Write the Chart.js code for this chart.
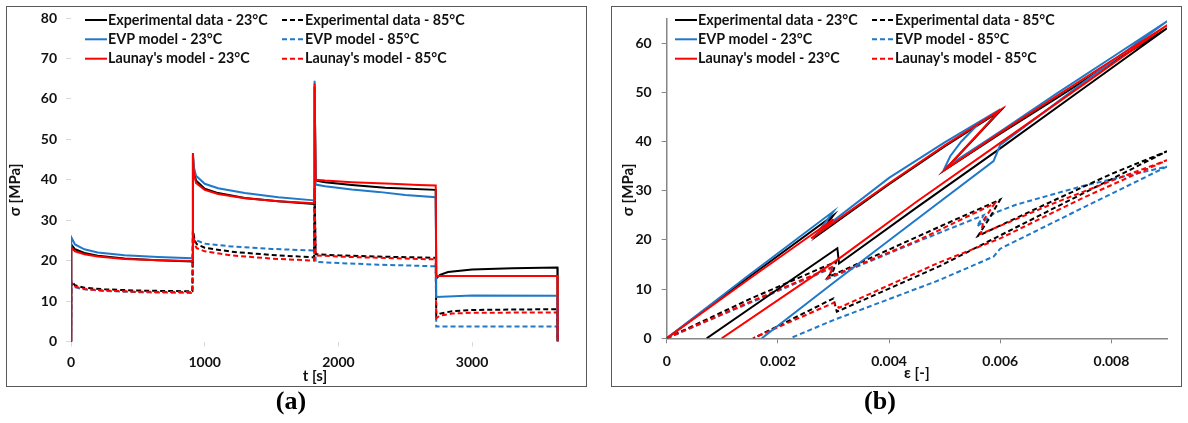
<!DOCTYPE html>
<html>
<head>
<meta charset="utf-8">
<script src="https://cdn.jsdelivr.net/npm/chart.js@4.4.1/dist/chart.umd.min.js"></script>
<style>
  html, body { margin: 0; padding: 0; background: #fff; }
  body { width: 1188px; height: 423px; position: relative; overflow: hidden; }
  .frame { position: absolute; border: 1.5px solid #595959; box-sizing: border-box; }
  .panel { position: absolute; top: 0; }
  .caption { position: absolute; top: 386px; font: bold 26px "Liberation Serif", serif; transform: translateX(-50%); }
</style>
</head>
<body>
<div class="frame" style="left:6px;top:6px;width:581px;height:381px"></div>
<div class="frame" style="left:611px;top:6px;width:571px;height:381px"></div>
<div class="panel" style="left:0"><canvas id="chartA" width="600" height="400"></canvas></div>
<div class="panel" style="left:600px"><canvas id="chartB" width="588" height="400"></canvas></div>
<div class="caption" style="left:291px">(a)</div>
<div class="caption" style="left:880px">(b)</div>
<script>
  // legend labels, same order in both panels
  const labels = [
    'Experimental data - 23°C', 'Experimental data - 85°C',
    'EVP model - 23°C', 'EVP model - 85°C',
    "Launay's model - 23°C", "Launay's model - 85°C"
  ];
  const timeTicks = [0, 1000, 2000, 3000];

  // (a) stress relaxation, [t (s), sigma (MPa)]
  const relaxExp23 = [
    [0, 0], [2, 24.0], [30, 22.8], [100, 21.9], [200, 21.2], [400, 20.5], [650, 20.1], [908, 19.8],
    [912, 46.0], [918, 42.5], [935, 39.8], [1000, 37.8], [1100, 36.7], [1300, 35.5], [1550, 34.7], [1818, 34.0],
    [1822, 63.0], [1830, 39.8], [1900, 39.4], [2100, 38.7], [2350, 38.0], [2728, 37.5],
    [2732, 15.6], [2760, 16.5], [2820, 17.2], [3000, 17.8], [3300, 18.1], [3638, 18.3], [3640, 0]
  ];
  const relaxEvp23 = [
    [0, 0], [2, 25.8], [30, 24.0], [100, 22.8], [200, 22.0], [400, 21.3], [650, 20.9], [908, 20.6],
    [912, 46.5], [918, 43.2], [935, 41.0], [1000, 39.0], [1100, 37.9], [1300, 36.7], [1550, 35.7], [1818, 34.9],
    [1822, 64.5], [1830, 38.8], [1900, 38.4], [2100, 37.6], [2300, 37.0], [2500, 36.2], [2728, 35.7],
    [2732, 11.0], [3000, 11.4], [3638, 11.3], [3640, 0]
  ];
  const relaxLaunay23 = [
    [0, 0], [2, 23.2], [30, 22.3], [100, 21.6], [200, 21.0], [400, 20.4], [650, 20.1], [908, 19.9],
    [912, 46.6], [918, 41.8], [935, 39.2], [1000, 37.5], [1100, 36.5], [1300, 35.4], [1550, 34.7], [1818, 34.2],
    [1822, 63.8], [1830, 40.0], [1900, 39.8], [2100, 39.4], [2400, 39.0], [2600, 38.7], [2728, 38.6],
    [2732, 16.2], [3638, 16.2], [3640, 0]
  ];
  const relaxExp85 = [
    [0, 0], [2, 15.0], [30, 13.9], [100, 13.3], [250, 12.9], [500, 12.6], [908, 12.4],
    [912, 27.5], [925, 25.0], [940, 24.1], [1000, 23.2], [1200, 22.2], [1500, 21.4], [1818, 20.8],
    [1822, 38.0], [1830, 21.6], [2000, 21.3], [2300, 21.0], [2728, 20.7],
    [2732, 6.4], [2760, 6.9], [2850, 7.5], [3000, 7.8], [3300, 7.9], [3638, 8.0], [3640, 0]
  ];
  const relaxEvp85 = [
    [0, 0], [2, 14.4], [30, 13.4], [100, 12.9], [250, 12.5], [500, 12.2], [908, 12.0],
    [912, 26.5], [925, 25.4], [940, 25.0], [1000, 24.2], [1200, 23.5], [1500, 22.9], [1818, 22.5],
    [1822, 34.9], [1830, 19.7], [2000, 19.4], [2300, 19.0], [2728, 18.6],
    [2732, 3.7], [3638, 3.7], [3640, 0]
  ];
  const relaxLaunay85 = [
    [0, 0], [2, 14.6], [30, 13.6], [100, 13.0], [250, 12.6], [500, 12.3], [908, 12.2],
    [912, 27.0], [925, 24.0], [940, 23.1], [1000, 22.3], [1200, 21.3], [1500, 20.5], [1818, 20.0],
    [1822, 36.2], [1830, 21.3], [2000, 21.0], [2300, 20.7], [2728, 20.3],
    [2732, 5.8], [2760, 6.4], [2850, 6.9], [3000, 7.1], [3638, 7.2], [3640, 0]
  ];

  // (b) stress-strain loops, [eps (-), sigma (MPa)]
  const cycleExp23 = [
    [0, 0], [0.0015, 12.6], [0.0030, 25.0], [0.00285, 22.8], [0.0027, 20.8],
    [0.0040, 31.3], [0.0050, 39.0], [0.0060, 46.2],
    [0.0055, 40.2], [0.0050, 34.2],
    [0.0060, 41.6], [0.0070, 48.7], [0.0080, 55.9], [0.0090, 63.0],
    [0.0075, 50.8], [0.0060, 38.6], [0.0045, 26.6], [0.0031, 15.2], [0.00307, 18.3], [0.0019, 9.2], [0.00072, 0]
  ];
  const cycleEvp23 = [
    [0, 0], [0.0015, 13.0], [0.0030, 25.8], [0.00285, 23.5], [0.0027, 21.3],
    [0.0040, 32.6], [0.0050, 39.8], [0.0060, 46.5],
    [0.0056, 43.5], [0.0053, 40.0], [0.0051, 37.0], [0.0050, 34.6],
    [0.0060, 42.0], [0.0070, 49.6], [0.0080, 57.0], [0.0090, 64.4],
    [0.0075, 52.0], [0.0060, 39.3], [0.00588, 36.0], [0.0045, 24.2], [0.0030, 11.3], [0.00171, 0]
  ];
  const cycleLaunay23 = [
    [0, 0], [0.0015, 12.2], [0.0030, 24.2], [0.0028, 22.0], [0.0026, 20.3],
    [0.0040, 31.5], [0.0050, 39.2], [0.0060, 46.4],
    [0.0055, 40.3], [0.0050, 34.2],
    [0.0060, 41.8], [0.0070, 49.1], [0.0080, 56.4], [0.0090, 63.6],
    [0.0075, 51.6], [0.0060, 39.7], [0.0045, 27.8], [0.0031, 16.2], [0.00099, 0]
  ];
  const cycleExp85 = [
    [0, 0], [0.0015, 8.0], [0.00305, 15.6], [0.0030, 13.8], [0.0029, 12.4],
    [0.0045, 20.6], [0.0060, 28.2], [0.0058, 24.3], [0.0056, 20.8],
    [0.0070, 28.2], [0.0080, 33.4], [0.0090, 38.0],
    [0.0075, 29.5], [0.0060, 20.9], [0.0049, 14.6], [0.00306, 5.4], [0.0030, 8.1], [0.00156, 0]
  ];
  const cycleEvp85 = [
    [0, 0], [0.0015, 7.2], [0.0030, 14.4], [0.0029, 12.1],
    [0.0045, 19.6], [0.0057, 25.0], [0.00558, 22.7],
    [0.0059, 25.5], [0.0063, 27.2], [0.0075, 31.0], [0.0090, 34.9],
    [0.0075, 26.6], [0.0060, 18.2], [0.00588, 16.6], [0.0049, 11.8], [0.0030, 3.7], [0.00222, 0]
  ];
  const cycleLaunay85 = [
    [0, 0], [0.0015, 7.4], [0.0030, 14.6], [0.0029, 12.3],
    [0.0045, 19.8], [0.0059, 27.4], [0.0057, 24.0], [0.00565, 21.2],
    [0.0070, 27.6], [0.0080, 32.0], [0.0090, 36.2],
    [0.0075, 28.6], [0.0060, 20.3], [0.0049, 15.4], [0.0031, 6.2], [0.0030, 7.2], [0.00155, 0]
  ];

  const BLACK = '#000000';
  const BLUE = '#1f78c8';
  const RED = '#ff0000';
  const TEXT = '#111111';
  const fontFamily = 'Lato, "Open Sans", sans-serif';

  // lower order is drawn on top
  function series(label, points, color, dashed, order) {
    return {
      label: label,
      data: points.map(p => ({ x: p[0], y: p[1] })),
      borderColor: color,
      backgroundColor: color,
      borderWidth: 2,
      borderDash: dashed ? [5, 3] : [],
      pointRadius: 0,
      showLine: true,
      tension: 0,
      order: order
    };
  }

  function datasets(exp23, exp85, evp23, evp85, lau23, lau85) {
    return [
      series(labels[0], exp23, BLACK, false, 2),
      series(labels[1], exp85, BLACK, true, 4),
      series(labels[2], evp23, BLUE, false, 1),
      series(labels[3], evp85, BLUE, true, 5),
      series(labels[4], lau23, RED, false, 0),
      series(labels[5], lau85, RED, true, 3)
    ];
  }

  // two column legend and the vertical axis title, placed like the spreadsheet ones
  const legendPlugin = {
    id: 'twoColLegend',
    afterDraw(chart, args, opts) {
      const ctx = chart.ctx;
      ctx.save();
      ctx.font = opts.font;
      ctx.textBaseline = 'middle';
      chart.data.datasets.forEach((ds, i) => {
        const x = opts.cols[i % 2];
        const y = opts.rows[Math.floor(i / 2)];
        ctx.strokeStyle = ds.borderColor;
        ctx.lineWidth = 2;
        ctx.setLineDash(ds.borderDash);
        ctx.beginPath();
        ctx.moveTo(x, y);
        ctx.lineTo(x + opts.lineLength, y);
        ctx.stroke();
        ctx.setLineDash([]);
        ctx.fillStyle = TEXT;
        ctx.fillText(ds.label, x + opts.lineLength + 1, y);
      });

      const t = opts.yTitle;
      ctx.font = 'bold 15px ' + fontFamily;
      ctx.textAlign = 'center';
      ctx.translate(t.x, t.y);
      ctx.rotate(-Math.PI / 2);
      ctx.fillText(t.text, 0, 0);
      ctx.restore();
    }
  };

  function axis(o) {
    return {
      type: 'linear',
      min: o.min,
      max: o.max,
      border: { display: o.line, color: '#868686', width: 1.5 },
      grid: { display: true, drawOnChartArea: false, drawTicks: true, tickLength: 5, color: o.tickColor },
      ticks: {
        stepSize: o.step,
        includeBounds: false,
        padding: o.pad,
        color: TEXT,
        font: { family: fontFamily, size: 14, weight: 'bold' },
        callback: o.format
      },
      title: {
        display: !!o.title,
        text: o.title,
        color: TEXT,
        padding: { top: 4, bottom: 6 },
        font: { family: fontFamily, size: 15, weight: 'bold' }
      },
      afterBuildTicks: o.values ? s => { s.ticks = o.values.map(v => ({ value: v })); } : undefined,
      afterFit: o.fit
    };
  }

  function makeChart(id, sets, xAxis, yAxis, padding, legend) {
    return new Chart(document.getElementById(id), {
      type: 'scatter',
      data: { datasets: sets },
      options: {
        responsive: false,
        animation: false,
        events: [],
        layout: { padding: padding },
        plugins: { legend: { display: false }, tooltip: { enabled: false }, twoColLegend: legend },
        scales: { x: xAxis, y: yAxis }
      },
      plugins: [legendPlugin]
    });
  }

  const legendFont = 'bold 14.3px ' + fontFamily;

  makeChart('chartA',
    datasets(relaxExp23, relaxExp85, relaxEvp23, relaxEvp85, relaxLaunay23, relaxLaunay85),
    axis({ min: 0, max: 3650, values: timeTicks, pad: 8, line: false, tickColor: '#d9d9d9', title: 't [s]',
      format: v => v, fit: s => { s.height = 50; } }),
    axis({ min: 0, max: 80, step: 10, pad: 9, line: false, tickColor: '#d9d9d9',
      format: v => v, fit: s => { s.width = 67; } }),
    { left: 4, right: 41, top: 18, bottom: 8.5 },
    { cols: [85, 282], rows: [20, 39.3, 58.7], lineLength: 22, font: legendFont,
      yTitle: { text: 'σ [MPa]', x: 15, y: 190 } }
  );

  makeChart('chartB',
    datasets(cycleExp23, cycleExp85, cycleEvp23, cycleEvp85, cycleLaunay23, cycleLaunay85),
    axis({ min: 0, max: 0.009, step: 0.002, pad: 10, line: true, tickColor: '#868686', title: 'ε [-]',
      format: v => (v === 0 ? '0' : v.toFixed(3)), fit: s => { s.height = 50; } }),
    axis({ min: 0, max: 65, step: 10, pad: 10, line: true, tickColor: '#868686',
      format: v => v, fit: s => { s.width = 62; } }),
    { left: 4.7, right: 21, top: 18.3, bottom: 11.7 },
    { cols: [75, 272], rows: [20, 39.3, 58.7], lineLength: 22, font: legendFont,
      yTitle: { text: 'σ [MPa]', x: 28, y: 190 } }
  );
</script>
</body>
</html>
